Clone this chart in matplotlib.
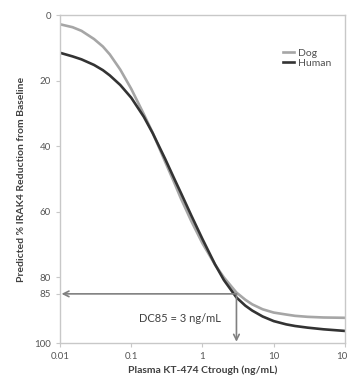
import matplotlib
matplotlib.use("Agg")
import matplotlib.pyplot as plt

# values
conc = [0.01, 0.015, 0.02, 0.03, 0.04, 0.05, 0.07, 0.1, 0.15, 0.2, 0.3, 0.4,
        0.5, 0.7, 1, 1.5, 2, 3, 4, 5, 7, 10, 15, 20, 30, 50, 100]
dog = [2.8, 3.7, 4.8, 7.3, 9.6, 12.0, 16.6, 22.5, 30.2, 35.9, 44.8, 51.0,
       56.0, 62.9, 69.6, 76.1, 80.0, 84.6, 86.8, 88.2, 89.7, 90.7, 91.3, 91.7,
       92.0, 92.2, 92.3]
human = [11.5, 12.6, 13.5, 15.2, 16.8, 18.4, 21.3, 25.2, 31.0, 36.0, 43.9, 49.8,
         54.3, 61.2, 68.3, 76.0, 80.8, 86.1, 88.6, 90.1, 91.9, 93.3, 94.3, 94.8,
         95.3, 95.8, 96.3]

dc85_conc = 3
dc85_level = 85
dc85_label = "DC85 = 3 ng/mL"

yticks = [0, 20, 40, 60, 80, 85, 100]
xticks = [0.01, 0.1, 1, 10, 100]
xticklabels = ["0.01", "0.1", "1", "10", "100"]

plt.rcParams['font.family'] = ['Lato', 'DejaVu Sans']

fig = plt.figure(figsize=(3.47, 3.77), dpi=100)
ax = fig.add_axes([0.173, 0.090, 0.821, 0.870])

ax.plot(conc, dog, color="#a6a6a6", lw=1.9, label="Dog")
ax.plot(conc, human, color="#333333", lw=1.9, label="Human")

ax.set_xscale("log")
ax.set_xlim(0.01, 100)
ax.set_ylim(100, 0)
ax.set_xticks(xticks)
ax.set_xticklabels(xticklabels)
ax.minorticks_off()
ax.set_yticks(yticks)

# DC85 arrows
ax.annotate("", xy=(0.0105, dc85_level), xytext=(dc85_conc, dc85_level),
            arrowprops=dict(arrowstyle="->", color="#808080", lw=1.2,
                            shrinkA=0, shrinkB=0))
ax.annotate("", xy=(dc85_conc, 99.6), xytext=(dc85_conc, dc85_level),
            arrowprops=dict(arrowstyle="->", color="#808080", lw=1.2,
                            shrinkA=0, shrinkB=0))
ax.text(0.48, 92.4, dc85_label, ha="center", va="center", fontsize=8,
        color="#404040")

for s in ax.spines.values():
    s.set_color("#c8c8c8")
    s.set_linewidth(1.0)
ax.tick_params(axis="both", colors="#c8c8c8", labelcolor="#555555",
               labelsize=7, length=3, width=0.8)

ax.set_ylabel("Predicted % IRAK4 Reduction from Baseline", fontsize=7.5,
              fontweight="bold", color="#404040", labelpad=6)
ax.set_xlabel("Plasma KT-474 Ctrough (ng/mL)", fontsize=7.5,
              fontweight="bold", color="#404040", labelpad=3)

leg = ax.legend(loc="upper right", bbox_to_anchor=(0.965, 0.91), frameon=False,
                fontsize=7.5, handlelength=1.1, handletextpad=0.3,
                labelspacing=0.05, borderaxespad=0)
for t in leg.get_texts():
    t.set_color("#505050")

fig.savefig("out.png", dpi=100)
